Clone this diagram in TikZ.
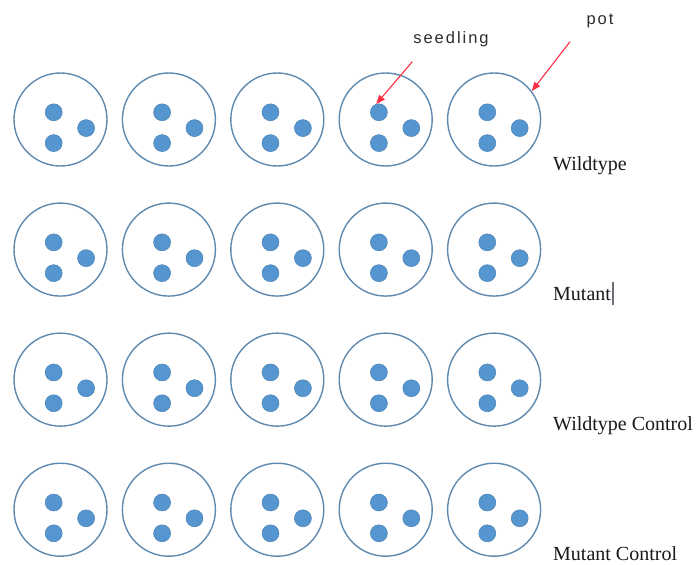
\documentclass[tikz,border=0pt]{standalone}
\usepackage{fontspec}
\setmainfont{Liberation Serif}
\newfontfamily\calloutfont[LetterSpace=12]{Liberation Sans}
\usetikzlibrary{arrows.meta}

\definecolor{potline}{RGB}{95,138,176}
\definecolor{seedfill}{RGB}{86,150,208}
\definecolor{seedline}{RGB}{75,130,180}
\definecolor{calloutred}{RGB}{255,45,70}
\definecolor{callouttext}{RGB}{45,45,45}
\definecolor{caretgray}{RGB}{110,110,120}

\begin{document}
\begin{tikzpicture}[x=1pt,y=-1pt,
  pot/.style={circle, draw=potline, line width=1.4pt, minimum size=93pt, inner sep=0pt},
  seedling/.style={circle, fill=seedfill, draw=seedline, line width=0.5pt, minimum size=17pt, inner sep=0pt},
  group label/.style={font=\fontsize{20}{24}\selectfont, text=black!90, anchor=base west, inner sep=0pt},
  callout/.style={font=\calloutfont\fontsize{16.5}{19}\selectfont, text=callouttext, inner sep=0pt},
  pointer/.style={draw=calloutred, line width=1.1pt, -{Triangle[length=9pt,width=7pt]}},
  caret/.style={draw=caretgray, line width=1.6pt}]

\useasboundingbox (0,0) rectangle (699,565);

% four rows of five pots, three seedlings in each
\foreach \r in {1,...,4}{
  \foreach \c in {1,...,5}{
    \pgfmathsetmacro\cx{60.5+108.4*(\c-1)}
    \pgfmathsetmacro\cy{119.5+130.07*(\r-1)}
    \node[pot] (pot-\r-\c) at (\cx,\cy) {};
    \node[seedling] (seed-\r-\c-a) at ([shift={(-6.8,-7.2)}]pot-\r-\c.center) {};
    \node[seedling] (seed-\r-\c-b) at ([shift={(-6.8,23.6)}]pot-\r-\c.center) {};
    \node[seedling] (seed-\r-\c-c) at ([shift={(25.6,8.6)}]pot-\r-\c.center) {};
  }
}

% row labels
\node[group label] (wt)   at (553,170)   {Wildtype};
\node[group label] (mut)  at (553,300.5) {Mutant};
\node[group label] (wtc)  at (553,430.5) {Wildtype Control};
\node[group label] (mutc) at (553,560.5) {Mutant Control};

% text cursor after "Mutant"
\coordinate (caretpos) at ([xshift=1.6pt]mut.base east);
\draw[caret] ([yshift=-4pt]caretpos) -- ([yshift=19pt]caretpos);

% callouts
\node[callout] (seedlabel) at (451,39) {seedling};
\node[callout] (potlabel)  at (600,21) {pot};
\coordinate (seedtail) at (412.3,61.7);
\coordinate (pottail)  at (570,41.7);
\draw[pointer] (seedtail) -- (seed-1-4-a.108);
\draw[pointer] (pottail) -- (pot-1-5.37);

\end{tikzpicture}
\end{document}
